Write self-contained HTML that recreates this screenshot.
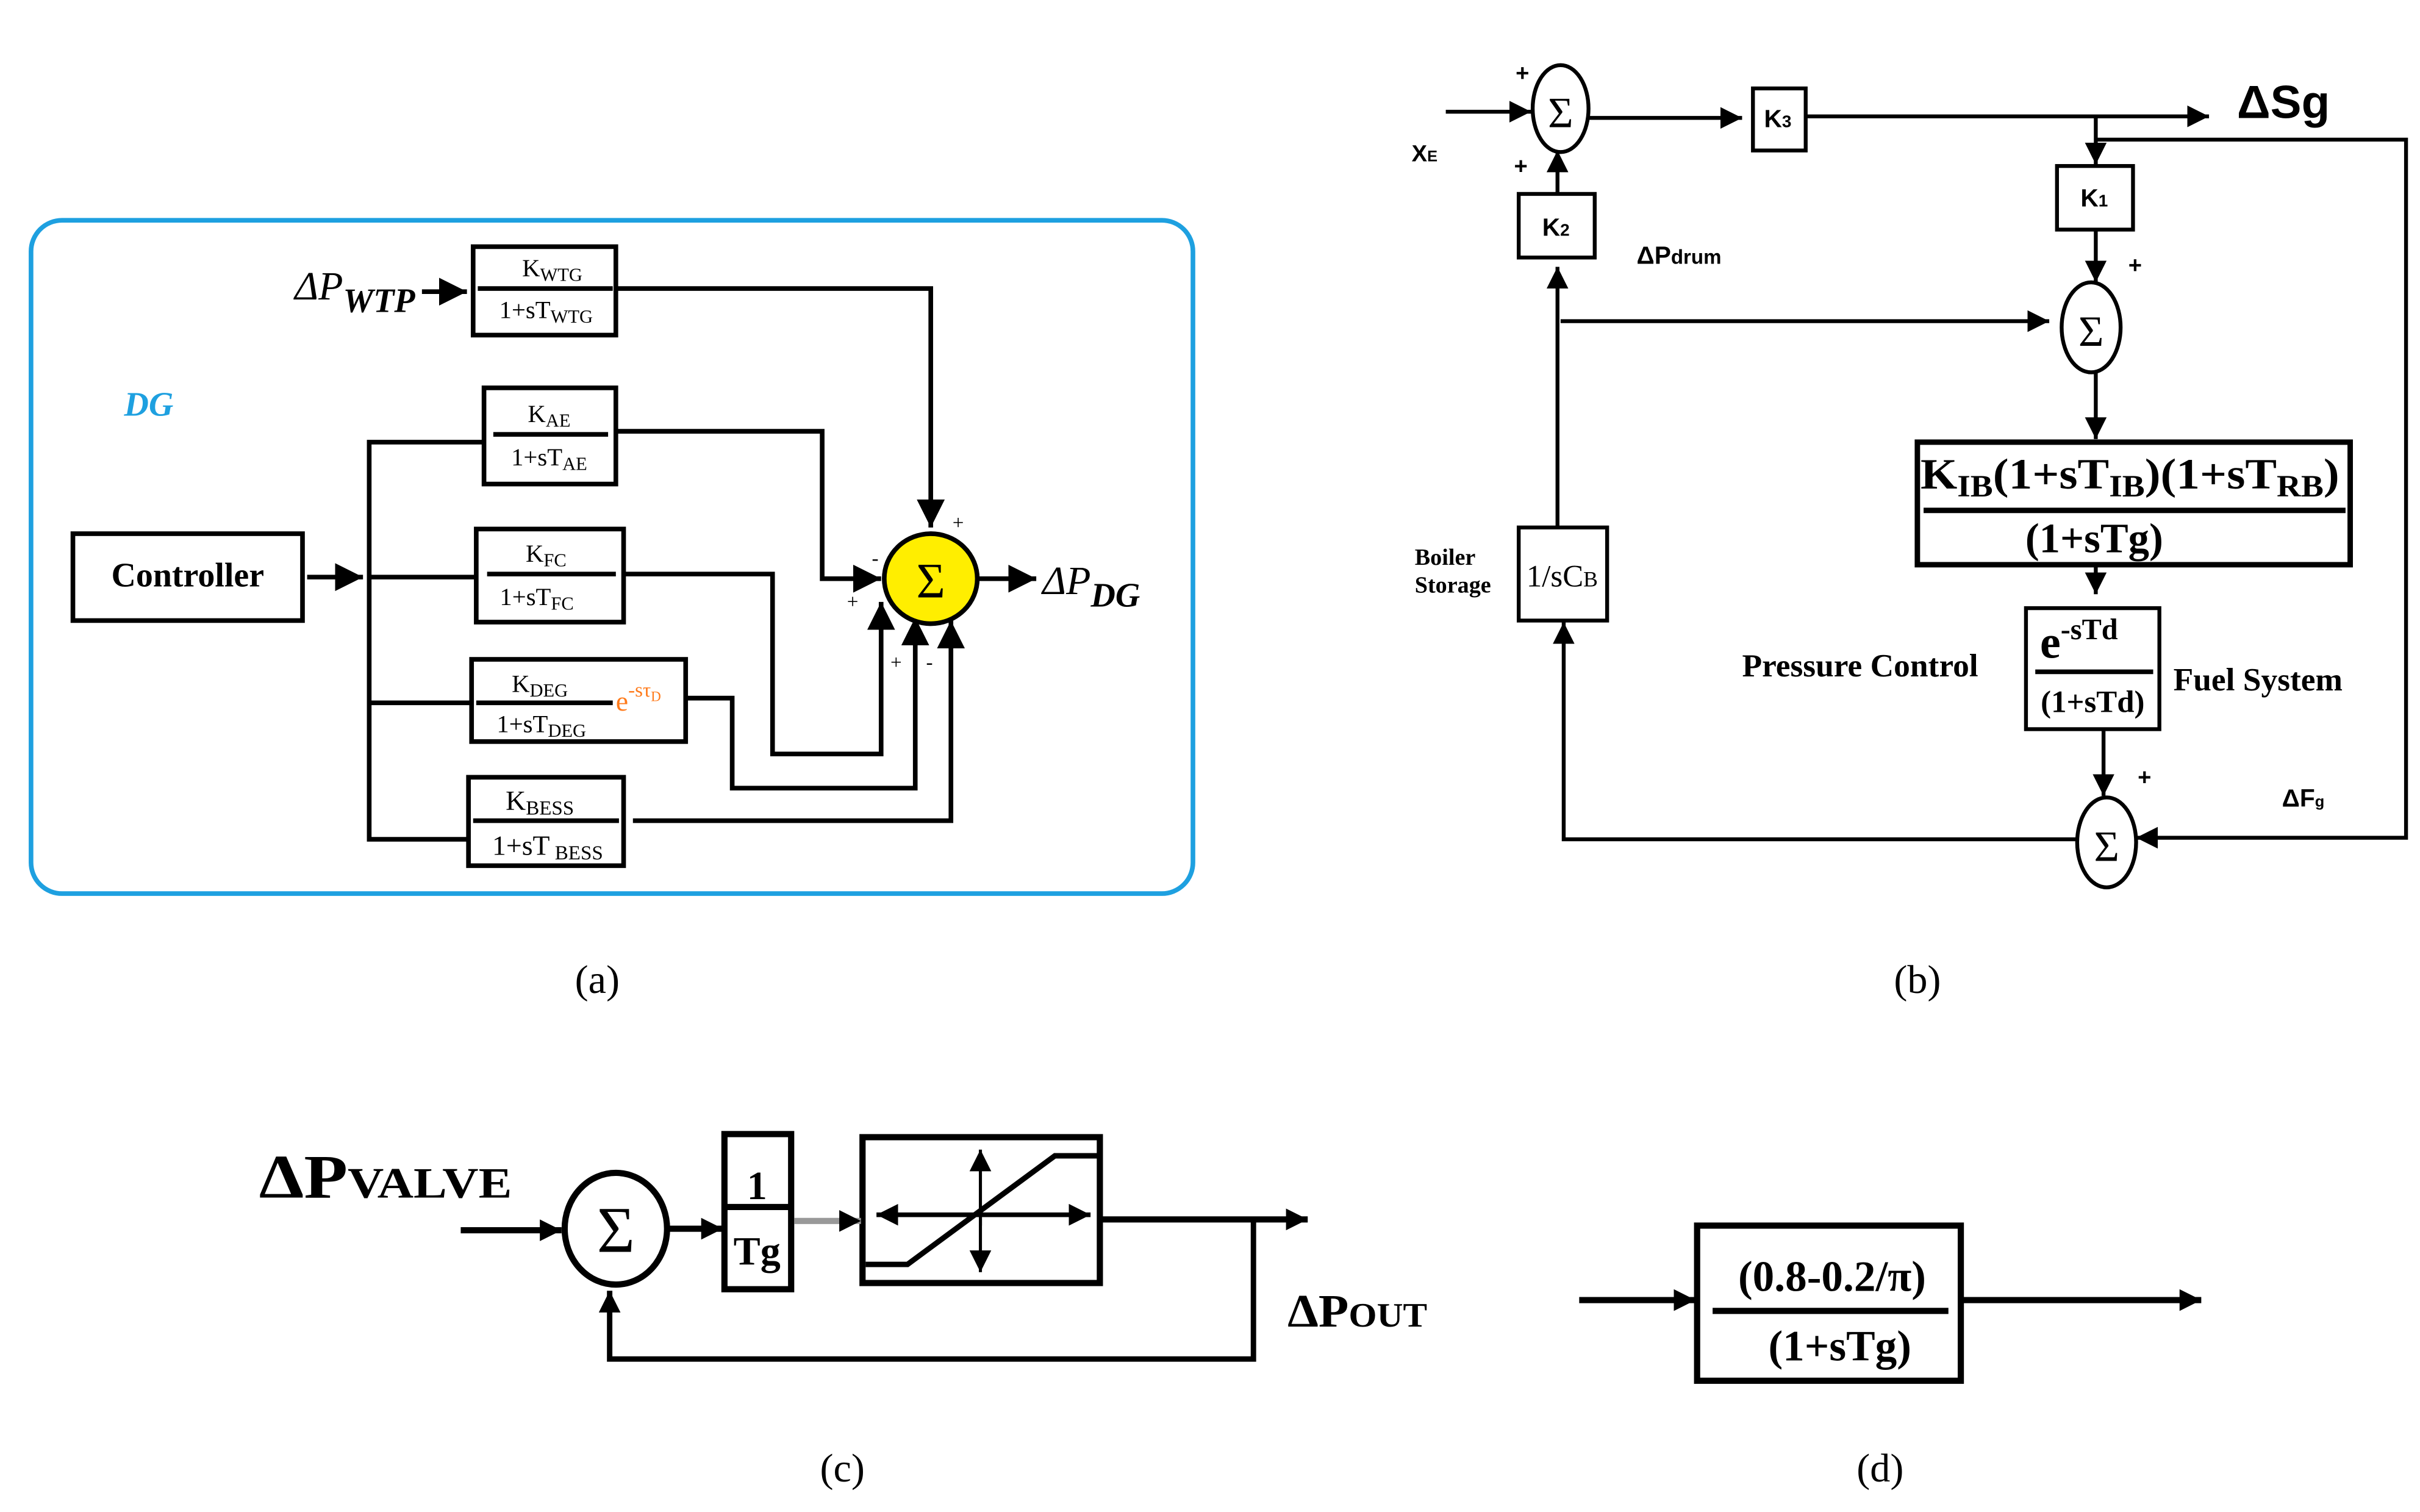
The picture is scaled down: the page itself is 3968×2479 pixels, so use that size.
<!DOCTYPE html>
<html><head><meta charset="utf-8"><style>
html,body{margin:0;padding:0;background:#fff;}
svg{display:block;}
text{font-family:"Liberation Serif",serif;fill:#000;}
.s{font-family:"Liberation Sans",sans-serif;}
</style></head><body>
<svg width="3968" height="2479" viewBox="0 0 1560 974.6" preserveAspectRatio="none" xmlns="http://www.w3.org/2000/svg">
<defs>
<marker id="b" viewBox="0 0 10 10" refX="10" refY="5" markerWidth="14" markerHeight="14" orient="auto" markerUnits="userSpaceOnUse"><path d="M0,0L10,5L0,10z"/></marker>
<marker id="c" viewBox="0 0 10 10" refX="10" refY="5" markerWidth="18" markerHeight="18" orient="auto" markerUnits="userSpaceOnUse"><path d="M0,0L10,5L0,10z"/></marker>
</defs>
<rect width="1560" height="974.6" fill="#fff"/>

<!-- (a) -->
<rect x="20" y="142" width="749" height="434" rx="20" fill="none" stroke="#1ea0e0" stroke-width="3"/>
<text x="80" y="268" font-size="22" font-style="italic" font-weight="bold" style="fill:#1ea0e0">DG</text>
<g fill="none" stroke="#000" stroke-width="3">
<rect x="305" y="159" width="92" height="57"/>
<rect x="312" y="250" width="85" height="62"/>
<rect x="307" y="341" width="95" height="60"/>
<rect x="304" y="425" width="138" height="53"/>
<rect x="302" y="501" width="100" height="57"/>
<rect x="47" y="344" width="148" height="56"/>
<line x1="308" y1="186" x2="395" y2="186"/>
<line x1="318" y1="280" x2="392" y2="280"/>
<line x1="314" y1="370" x2="397" y2="370"/>
<line x1="307" y1="453" x2="395" y2="453"/>
<line x1="305" y1="529" x2="399" y2="529"/>
<polyline points="397,186 600,186 600,340" marker-end="url(#c)"/>
<polyline points="397,278 530,278 530,373 568,373" marker-end="url(#c)"/>
<polyline points="402,370 498,370 498,486 568,486 568,388" marker-end="url(#c)"/>
<polyline points="442,450 472,450 472,508 590,508 590,398" marker-end="url(#c)"/>
<polyline points="408,529 613,529 613,400" marker-end="url(#c)"/>
<line x1="272" y1="188" x2="301" y2="188" marker-end="url(#c)"/>
<line x1="198" y1="372" x2="234" y2="372" marker-end="url(#c)"/>
<line x1="631" y1="373" x2="668" y2="373" marker-end="url(#c)"/>
<polyline points="312,285 238,285 238,541 302,541"/>
<line x1="238" y1="372" x2="307" y2="372"/>
<line x1="238" y1="453" x2="304" y2="453"/>
</g>
<ellipse cx="600" cy="373" rx="30" ry="29" fill="#ffee00" stroke="#000" stroke-width="3"/>
<text x="600" y="385" font-size="32" text-anchor="middle">Σ</text>
<g font-size="16" text-anchor="middle">
<text x="356" y="178">K<tspan font-size="12" dy="3">WTG</tspan></text>
<text x="352" y="205">1+sT<tspan font-size="12" dy="3">WTG</tspan></text>
<text x="354" y="272">K<tspan font-size="12" dy="3">AE</tspan></text>
<text x="354" y="300">1+sT<tspan font-size="12" dy="3">AE</tspan></text>
<text x="352" y="362">K<tspan font-size="12" dy="3">FC</tspan></text>
<text x="346" y="390">1+sT<tspan font-size="12" dy="3">FC</tspan></text>
<text x="348" y="446">K<tspan font-size="12" dy="3">DEG</tspan></text>
<text x="349" y="472">1+sT<tspan font-size="12" dy="3">DEG</tspan></text>
<text x="348" y="522" font-size="18">K<tspan font-size="13" dy="3">BESS</tspan></text>
<text x="353" y="551" font-size="18">1+sT<tspan font-size="13" dy="3"> BESS</tspan></text>
</g>
<text x="397" y="458" font-size="18" style="fill:#ff7a1a">e<tspan font-size="13" dy="-9">-sτ</tspan><tspan font-size="9" dy="3">D</tspan></text>
<text x="121" y="378" font-size="22" font-weight="bold" text-anchor="middle">Controller</text>
<text x="190" y="193" font-size="26" font-style="italic">ΔP<tspan font-size="22" dy="8" font-weight="bold">WTP</tspan></text>
<text x="672" y="383" font-size="26" font-style="italic">ΔP<tspan font-size="22" dy="8" font-weight="bold">DG</tspan></text>
<g font-size="13"><text x="614" y="341">+</text><text x="562" y="364">-</text><text x="546" y="392">+</text><text x="574" y="431">+</text><text x="597" y="431">-</text></g>
<text x="385" y="640" font-size="26" text-anchor="middle">(a)</text>

<!-- (b) -->
<g fill="none" stroke="#000" stroke-width="2.5">
<ellipse cx="1006" cy="70" rx="18" ry="28"/>
<ellipse cx="1348" cy="211" rx="19" ry="29"/>
<ellipse cx="1358" cy="543" rx="19" ry="29"/>
<rect x="979" y="125" width="49" height="41"/>
<rect x="1130" y="57" width="34" height="40"/>
<rect x="1326" y="107" width="49" height="41"/>
<rect x="979" y="340" width="57" height="60"/>
<rect x="1236" y="285" width="279" height="79" stroke-width="3.5"/>
<rect x="1306" y="392" width="86" height="78"/>
<line x1="1240" y1="329" x2="1512" y2="329" stroke-width="3.5"/>
<line x1="1312" y1="433" x2="1388" y2="433" stroke-width="3"/>
<line x1="932" y1="72" x2="987" y2="72" marker-end="url(#b)"/>
<line x1="1004" y1="125" x2="1004" y2="97" marker-end="url(#b)"/>
<line x1="1024" y1="76" x2="1123" y2="76" marker-end="url(#b)"/>
<line x1="1164" y1="75" x2="1424" y2="75" marker-end="url(#b)"/>
<line x1="1351" y1="75" x2="1351" y2="106" marker-end="url(#b)"/>
<polyline points="1351,90 1551,90 1551,540 1377,540" marker-end="url(#b)"/>
<line x1="1351" y1="148" x2="1351" y2="182" marker-end="url(#b)"/>
<line x1="1006" y1="207" x2="1321" y2="207" marker-end="url(#b)"/>
<line x1="1004" y1="340" x2="1004" y2="172" marker-end="url(#b)"/>
<line x1="1351" y1="240" x2="1351" y2="283" marker-end="url(#b)"/>
<line x1="1351" y1="365" x2="1351" y2="383" marker-end="url(#b)"/>
<line x1="1356" y1="470" x2="1356" y2="513" marker-end="url(#b)"/>
<polyline points="1339,541 1008,541 1008,401" marker-end="url(#b)"/>
</g>
<g>
<text x="1006" y="82" font-size="28" text-anchor="middle">Σ</text>
<text x="1348" y="223" font-size="28" text-anchor="middle">Σ</text>
<text x="1358" y="555" font-size="28" text-anchor="middle">Σ</text>
<text class="s" x="1003" y="152" font-size="16" font-weight="bold" text-anchor="middle">K<tspan font-size="11">2</tspan></text>
<text class="s" x="1146" y="82" font-size="16" font-weight="bold" text-anchor="middle">K<tspan font-size="11">3</tspan></text>
<text class="s" x="1350" y="133" font-size="16" font-weight="bold" text-anchor="middle">K<tspan font-size="11">1</tspan></text>
<text x="1007" y="378" font-size="20" text-anchor="middle">1/sC<tspan font-size="14">B</tspan></text>
<text class="s" x="910" y="104" font-size="15" font-weight="bold">X<tspan font-size="10">E</tspan></text>
<text class="s" x="977" y="52" font-size="15" font-weight="bold">+</text>
<text class="s" x="976" y="112" font-size="15" font-weight="bold">+</text>
<text class="s" x="1372" y="176" font-size="15" font-weight="bold">+</text>
<text class="s" x="1378" y="506" font-size="15" font-weight="bold">+</text>
<text class="s" x="1442" y="76" font-size="30" font-weight="bold">ΔSg</text>
<text class="s" x="1055" y="170" font-size="16" font-weight="bold">ΔP<tspan font-size="13">drum</tspan></text>
<text class="s" x="1471" y="520" font-size="16" font-weight="bold">ΔF<tspan font-size="10">g</tspan></text>
<text x="912" y="364" font-size="15" font-weight="bold">Boiler</text>
<text x="912" y="382" font-size="15" font-weight="bold">Storage</text>
<text x="1238" y="315" font-size="28" font-weight="bold" textLength="270" lengthAdjust="spacingAndGlyphs">K<tspan font-size="20" dy="5">IB</tspan><tspan dy="-5">(1+sT</tspan><tspan font-size="20" dy="5">IB</tspan><tspan dy="-5">)(1+sT</tspan><tspan font-size="20" dy="5">RB</tspan><tspan dy="-5">)</tspan></text>
<text x="1350" y="356" font-size="27" font-weight="bold" text-anchor="middle">(1+sTg)</text>
<text x="1315" y="424" font-size="30" font-weight="bold">e<tspan font-size="19" dy="-12">-sTd</tspan></text>
<text x="1349" y="459" font-size="20" font-weight="bold" text-anchor="middle">(1+sTd)</text>
<text x="1123" y="436" font-size="21" font-weight="bold">Pressure Control</text>
<text x="1401" y="445" font-size="21" font-weight="bold">Fuel System</text>
</g>
<text x="1236" y="640" font-size="26" text-anchor="middle">(b)</text>

<!-- (c) -->
<g fill="none" stroke="#000" stroke-width="4">
<ellipse cx="397" cy="792" rx="33" ry="36"/>
<rect x="467" y="731" width="43" height="100"/>
<line x1="467" y1="778" x2="510" y2="778"/>
<rect x="556" y="733" width="153" height="94"/>
<line x1="297" y1="793" x2="362" y2="793" marker-end="url(#b)"/>
<line x1="430" y1="792" x2="466" y2="792" marker-end="url(#b)"/>
<line x1="512" y1="787" x2="555" y2="787" stroke="#999" marker-end="url(#b)"/>
<line x1="709" y1="786" x2="843" y2="786" marker-end="url(#b)"/>
<polyline points="808,786 808,876 393,876 393,832" stroke-width="3.5" marker-end="url(#b)"/>
<polyline points="558,815 585,815 680,745 708,745" stroke-width="3.5"/>
</g>
<g fill="none" stroke="#000" stroke-width="2">
<line x1="632" y1="790" x2="632" y2="741" marker-end="url(#b)"/>
<line x1="632" y1="780" x2="632" y2="820" marker-end="url(#b)"/>
<line x1="634" y1="783" x2="565" y2="783" stroke-width="3" marker-end="url(#b)"/>
<line x1="630" y1="783" x2="703" y2="783" stroke-width="3" marker-end="url(#b)"/>
</g>
<text x="397" y="807" font-size="42" text-anchor="middle">Σ</text>
<text x="488" y="773" font-size="26" font-weight="bold" text-anchor="middle">1</text>
<text x="488" y="815" font-size="26" font-weight="bold" text-anchor="middle">Tg</text>
<text x="167" y="772" font-size="40" font-weight="bold" textLength="163" lengthAdjust="spacingAndGlyphs">ΔP<tspan font-size="28">VALVE</tspan></text>
<text x="830" y="855" font-size="30" font-weight="bold" textLength="90" lengthAdjust="spacingAndGlyphs">ΔP<tspan font-size="22">OUT</tspan></text>
<text x="543" y="955" font-size="26" text-anchor="middle">(c)</text>

<!-- (d) -->
<g fill="none" stroke="#000" stroke-width="4">
<rect x="1094" y="790" width="170" height="100"/>
<line x1="1104" y1="845" x2="1256" y2="845"/>
<line x1="1018" y1="838" x2="1093" y2="838" marker-end="url(#b)"/>
<line x1="1264" y1="838" x2="1419" y2="838" marker-end="url(#b)"/>
</g>
<text x="1181" y="832" font-size="28" font-weight="bold" text-anchor="middle">(0.8-0.2/π)</text>
<text x="1186" y="877" font-size="28" font-weight="bold" text-anchor="middle">(1+sTg)</text>
<text x="1212" y="955" font-size="26" text-anchor="middle">(d)</text>
</svg>
</body></html>
